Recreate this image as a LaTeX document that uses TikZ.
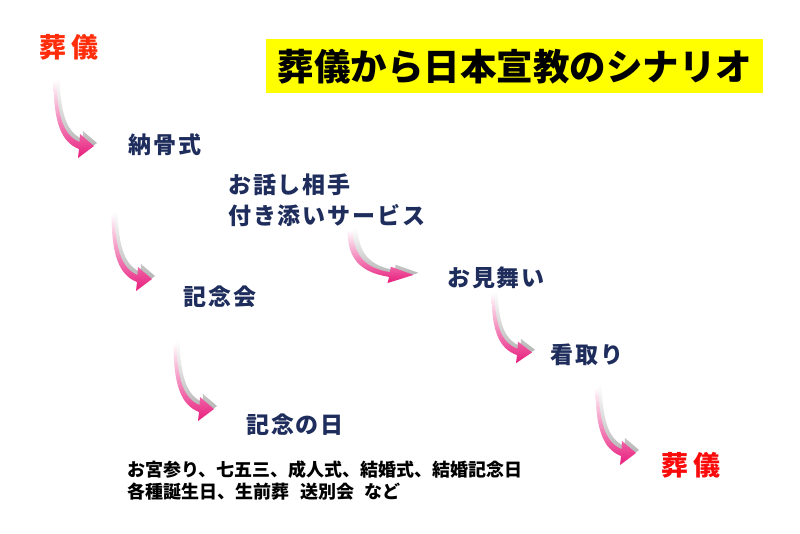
\documentclass[tikz,border=0pt]{standalone}
\usepackage{fontspec}
\setmainfont{Noto Sans CJK JP}
\newfontfamily\jpsp{Noto Sans CJK JP}[LetterSpace=8]
\newfontfamily\jpred{Noto Sans CJK JP}[LetterSpace=20]
\definecolor{navy}{RGB}{30,45,92}
\definecolor{redA}{RGB}{255,45,10}
\definecolor{redB}{RGB}{250,10,10}
\definecolor{pinkc}{RGB}{232,28,125}
\definecolor{titley}{RGB}{255,255,0}
\tikzset{
  stage/.style={inner sep=0pt, text=navy, font=\jpsp\bfseries\fontsize{23}{27}\selectfont},
  redword/.style={inner sep=0pt, font=\jpred\bfseries\fontsize{27}{31}\selectfont},
  note/.style={inner sep=0pt, anchor=west, text=black, font=\bfseries\fontsize{18}{22}\selectfont},
  swoosh/.pic={
    \shade[top color=white, bottom color=gray!65, shift={(3,-3)}]
      (-1.5,0) .. controls (-1.5,42) and (6,62) .. (24,69) -- (23,78) -- (39,66) -- (25,54) -- (24.5,62)
      .. controls (10,56) and (2.5,40) .. (1.5,0) -- cycle;
    \shade[top color=white, middle color=pinkc!55, bottom color=pinkc]
      (-1.5,0) .. controls (-1.5,42) and (6,62) .. (24,69) -- (23,78) -- (39,66) -- (25,54) -- (24.5,62)
      .. controls (10,56) and (2.5,40) .. (1.5,0) -- cycle;
  }
}
\begin{document}
\begin{tikzpicture}[x=1pt,y=-1pt]
\useasboundingbox (0,0) rectangle (800,533);
\fill[white] (0,0) rectangle (800,533);
% title
\fill[titley] (266,39) rectangle (763,93);
\node[inner sep=0pt, font=\bfseries\fontsize{36.5}{40}\selectfont] (title) at (515,67) {葬儀から日本宣教のシナリオ};
% red words
\node[redword, text=redA] (funeralA) at (69,47) {葬儀};
\node[redword, text=redB] (funeralB) at (691,465) {葬儀};
% stages
\node[stage] (noukotsu) at (165,145) {納骨式};
\node[stage, anchor=west] (hanashi) at (228,185) {お話し相手};
\node[stage, anchor=west] (tsukisoi) at (228,216) {付き添いサービス};
\node[stage] (kinenkai) at (220,297) {記念会};
\node[stage] (omimai) at (496,278) {お見舞い};
\node[stage] (mitori) at (587,355) {看取り};
\node[stage] (kinenbi) at (295,425) {記念の日};
% notes
\node[note] (noteA) at (127,470) {お宮参り、七五三、成人式、結婚式、結婚記念日};
\node[note] (noteB) at (127,492) {各種誕生日、生前葬\hspace{0.6em}送別会\hspace{0.6em}など};
% arrows
\pic at (55,80) {swoosh};
\pic at (113,213) {swoosh};
\pic at (175,343) {swoosh};
\pic[xscale=1.63, yscale=0.68] at (350,230) {swoosh};
\pic[yscale=0.9] at (493,293) {swoosh};
\pic at (597,387) {swoosh};
\end{tikzpicture}
\end{document}
